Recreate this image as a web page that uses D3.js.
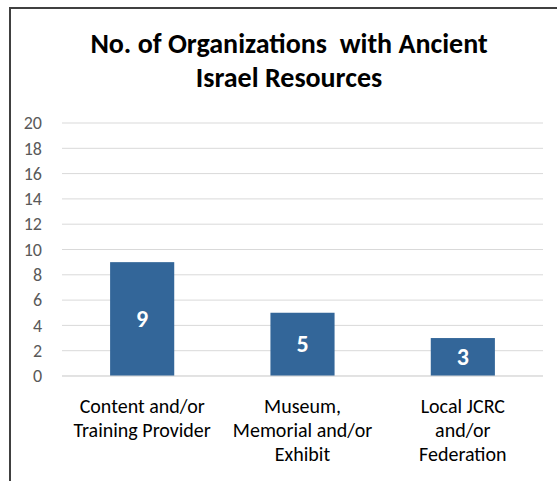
<!DOCTYPE html>
<html>
<head>
<meta charset="utf-8">
<script src="https://cdn.jsdelivr.net/npm/d3@7"></script>
<style>
  body { margin: 0; background: #fff; }
  text { font-family: Calibri, Carlito, "Liberation Sans", Arial, sans-serif; }
</style>
</head>
<body>
<div id="chart"></div>
<script>
// Data
var categories = [
  ['Content and/or', 'Training Provider'],
  ['Museum,', 'Memorial and/or', 'Exhibit'],
  ['Local JCRC', 'and/or', 'Federation']
]
var values = [9, 5, 3]
var yTicks = [0, 2, 4, 6, 8, 10, 12, 14, 16, 18, 20]
var titleLines = ['No. of Organizations  with Ancient', 'Israel Resources']

var totalWidth = 557
var totalHeight = 481
var margin = { top: 123, left: 62, right: 14, bottom: 105 }
var width = totalWidth - margin.left - margin.right
var height = totalHeight - margin.top - margin.bottom

var svg = d3
  .select('#chart')
  .append('svg')
  .attr('width', totalWidth)
  .attr('height', totalHeight)

// Chart frame (only top and left edges visible)
svg
  .append('path')
  .attr('d', 'M10,' + totalHeight + 'V8H' + totalWidth)
  .attr('fill', 'none')
  .attr('stroke', '#404040')
  .attr('stroke-width', 2)

// Title
svg
  .append('text')
  .attr('x', 289)
  .attr('y', 53)
  .attr('text-anchor', 'middle')
  .attr('font-size', 28)
  .attr('font-weight', 'bold')
  .attr('fill', '#000')
  .style('white-space', 'pre')
  .selectAll('tspan')
  .data(titleLines)
  .enter()
  .append('tspan')
  .attr('x', 289)
  .attr('dy', (d, i) => (i === 0 ? 0 : 34))
  .text(d => d)

var g = svg
  .append('g')
  .attr('transform', 'translate(' + margin.left + ',' + margin.top + ')')

var xPositionScale = d3
  .scaleBand()
  .domain(d3.range(values.length))
  .range([0, width])
  .paddingInner(0.6)
  .paddingOuter(0.3)

var yPositionScale = d3
  .scaleLinear()
  .domain([0, 20])
  .range([height, 0])

// Gridlines
g.selectAll('.grid')
  .data(yTicks)
  .enter()
  .append('line')
  .attr('class', 'grid')
  .attr('x1', 0)
  .attr('x2', width)
  .attr('y1', d => yPositionScale(d))
  .attr('y2', d => yPositionScale(d))
  .attr('stroke', '#d9d9d9')
  .attr('stroke-width', 1)

// Y axis labels
var yAxis = d3
  .axisLeft(yPositionScale)
  .tickValues(yTicks)
  .tickSize(0)
  .tickPadding(20)
g.append('g')
  .attr('class', 'axis y-axis')
  .call(yAxis)
  .call(s => s.select('.domain').remove())
  .selectAll('text')
  .attr('font-size', 18)
  .attr('font-family', 'Calibri, Carlito, "Liberation Sans", Arial, sans-serif')
  .attr('fill', '#595959')

// Bars
g.selectAll('.bar')
  .data(values)
  .enter()
  .append('rect')
  .attr('class', 'bar')
  .attr('x', (d, i) => xPositionScale(i))
  .attr('width', xPositionScale.bandwidth())
  .attr('y', d => yPositionScale(d))
  .attr('height', d => height - yPositionScale(d))
  .attr('fill', '#336699')

// Bar value labels
g.selectAll('.bar-label')
  .data(values)
  .enter()
  .append('text')
  .attr('class', 'bar-label')
  .attr('x', (d, i) => xPositionScale(i) + xPositionScale.bandwidth() / 2)
  .attr('y', d => (yPositionScale(d) + height) / 2)
  .attr('dy', '0.33em')
  .attr('text-anchor', 'middle')
  .attr('font-size', 24)
  .attr('font-weight', 'bold')
  .attr('fill', '#fff')
  .text(d => d)

// Baseline
g.append('line')
  .attr('x1', 0)
  .attr('x2', width)
  .attr('y1', yPositionScale(0))
  .attr('y2', yPositionScale(0))
  .attr('stroke', '#d9d9d9')

// Category labels
g.selectAll('.cat-label')
  .data(categories)
  .enter()
  .append('text')
  .attr('class', 'cat-label')
  .attr('text-anchor', 'middle')
  .attr('font-size', 20)
  .attr('fill', '#000')
  .each(function(d, i) {
    var cx = xPositionScale(i) + xPositionScale.bandwidth() / 2
    d3.select(this)
      .selectAll('tspan')
      .data(d)
      .enter()
      .append('tspan')
      .attr('x', cx)
      .attr('y', (line, j) => height + 37 + j * 24)
      .text(line => line)
  })
</script>
</body>
</html>
